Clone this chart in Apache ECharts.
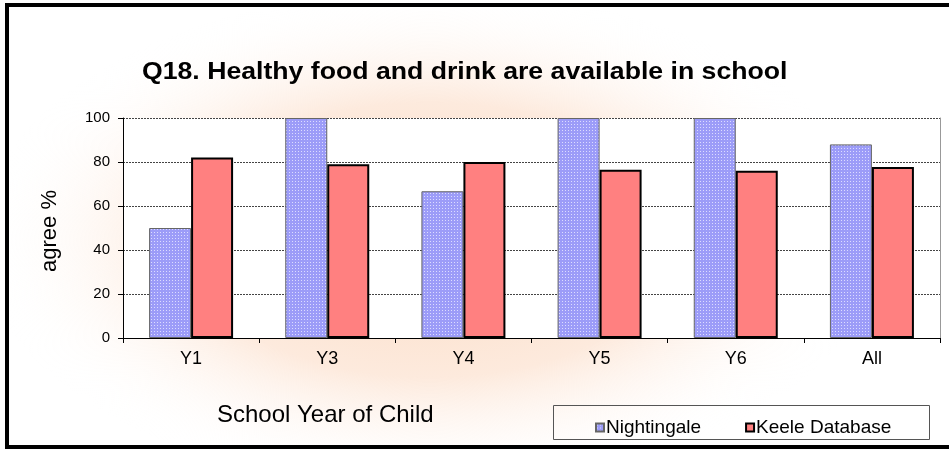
<!DOCTYPE html>
<html>
<head>
<meta charset="utf-8">
<script src="https://cdn.jsdelivr.net/npm/echarts@6/dist/echarts.min.js"></script>
<style>
html, body { margin: 0; padding: 0; background: #fff; }
#chart { width: 949px; height: 450px; }
</style>
</head>
<body>
<div id="chart"></div>
<script>
const years = ['Y1', 'Y3', 'Y4', 'Y5', 'Y6', 'All']
const nightingale = [50, 100, 66.7, 100, 100, 88]
const keele = [82, 79, 80, 76.5, 76, 77.7]
const yTicks = [0, 20, 40, 60, 80, 100]

// dotted fill for the Nightingale bars
function dotPattern() {
	const c = document.createElement('canvas')
	c.width = 3
	c.height = 3
	const ctx = c.getContext('2d')
	ctx.fillStyle = '#9c9cf8'
	ctx.fillRect(0, 0, 3, 3)
	ctx.fillStyle = '#dcdcff'
	ctx.fillRect(1, 1, 1, 1)
	return c
}
const blueFill = { image: dotPattern(), repeat: 'repeat' }
const font = 'Liberation Sans, Arial, sans-serif'

const chart = echarts.init(document.getElementById('chart'))
chart.setOption({
	animation: false,
	textStyle: { fontFamily: font },
	graphic: [
		{
			type: 'circle',
			z: -10,
			x: 430, y: 240,
			scaleX: 1.8,
			shape: { cx: 0, cy: 0, r: 250 },
			style: {
				fill: {
					type: 'radial', x: 0.5, y: 0.5, r: 0.5,
					colorStops: [
						{ offset: 0, color: '#fbdcc4' },
						{ offset: 0.55, color: '#fdeadd' },
						{ offset: 1, color: 'rgba(255,255,255,0)' }
					]
				}
			}
		},
		{
			type: 'rect',
			z: 10,
			shape: { x: 7, y: 5, width: 950, height: 442 },
			style: { fill: 'none', stroke: '#000', lineWidth: 4 }
		},
		{
			type: 'rect',
			z: 5,
			shape: { x: 553.5, y: 405.5, width: 376, height: 34 },
			style: { fill: 'none', stroke: '#555', lineWidth: 1 }
		},
		{
			type: 'text',
			x: 142, y: 72,
			scaleX: 1.11,
			style: { text: 'Q18. Healthy food and drink are available in school', font: 'bold 24px ' + font, fill: '#000', verticalAlign: 'middle' }
		},
		{
			type: 'text',
			x: 217, y: 415,
			style: { text: 'School Year of Child', font: '24px ' + font, fill: '#000', verticalAlign: 'middle' }
		},
		{
			type: 'text',
			x: 50, y: 231,
			rotation: Math.PI / 2,
			style: { text: 'agree %', font: '22px ' + font, fill: '#000', align: 'center', verticalAlign: 'middle' }
		}
	],
	legend: {
		data: ['Nightingale', 'Keele Database'],
		left: 590, top: 413,
		itemWidth: 8, itemHeight: 8, itemGap: 44,
		icon: 'rect',
		textStyle: { fontSize: 19, color: '#000', padding: [0, 0, 0, -3] }
	},
	grid: {
		left: 123, right: 9, top: 118, bottom: 112,
		show: true, backgroundColor: '#fff', borderWidth: 0
	},
	xAxis: {
		type: 'category',
		data: years,
		axisLine: { lineStyle: { color: '#000' } },
		axisTick: { show: true, length: 5, lineStyle: { color: '#000' } },
		axisLabel: { fontSize: 18, color: '#000', margin: 12 }
	},
	yAxis: [
		{
			type: 'value',
			min: 0, max: 100, interval: 20,
			axisLine: { show: true, lineStyle: { color: '#000' } },
			axisTick: { show: true, length: 5, lineStyle: { color: '#000' } },
			axisLabel: { fontSize: 15, color: '#000', margin: 13, formatter: v => yTicks.includes(v) ? v : '' },
			splitLine: { lineStyle: { color: '#444', type: [2, 1], width: 1 } }
		},
		{
			type: 'value',
			position: 'right',
			min: 0, max: 100, interval: 20,
			axisLine: { show: true, lineStyle: { color: '#999' } },
			axisTick: { show: false },
			axisLabel: { show: false },
			splitLine: { show: false }
		}
	],
	series: [
		{
			name: 'Nightingale',
			type: 'bar',
			data: nightingale,
			barWidth: 42,
			barGap: '0%',
			itemStyle: { color: blueFill, borderColor: '#666', borderWidth: 1 }
		},
		{
			name: 'Keele Database',
			type: 'bar',
			data: keele,
			barWidth: 42,
			itemStyle: { color: '#ff8080', borderColor: '#000', borderWidth: 2 }
		}
	]
})
</script>
</body>
</html>
